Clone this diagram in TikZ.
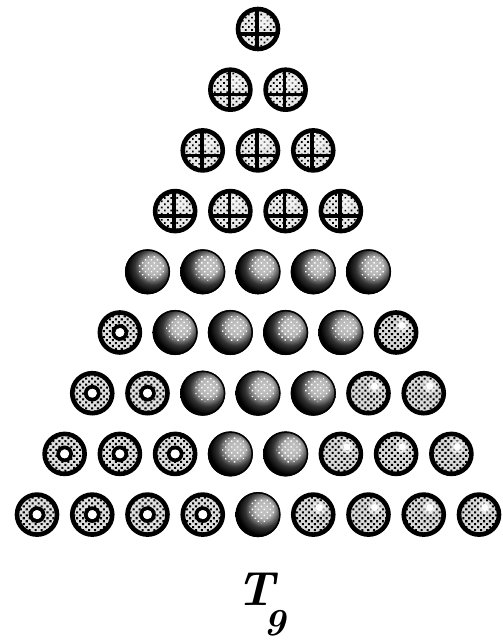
\documentclass[tikz,border=0pt]{standalone}
\usetikzlibrary{patterns.meta}
\pgfdeclareradialshading{darksh}{\pgfpoint{7bp}{7bp}}{color(0bp)=(gray!45); color(10bp)=(gray!58); color(20bp)=(black!80); color(28bp)=(black); color(100bp)=(black)}
\begin{document}
\begin{tikzpicture}[x=1pt,y=1pt,
  rim/.style={draw=black, line width=4.6pt},
  bar/.style={draw=black, line width=3.6pt},
  stipple/.style={pattern={Dots[radius=1.45pt,distance=4.2pt,angle=45]}, pattern color=black},
  lightstipple/.style={pattern={Dots[radius=1.2pt,distance=4.4pt,angle=45]}, pattern color=black},
  whitestipple/.style={pattern={Dots[radius=1pt,distance=4.2pt,angle=45]}, pattern color=white},
  lightball/.pic={
    \fill[gray!30] (0,0) circle (21);
    \fill[stipple] (0,0) circle (21);
    \fill[white, opacity=0.55] (6,7) circle (6.5);
    \fill[white] (6,7) circle (3.5);
    \draw[rim] (0,0) circle (20);
  },
  darkball/.pic={
    \shade[shading=darksh] (0,0) circle (22.5);
    \begin{scope}
      \clip (4,4) circle (13);
      \fill[whitestipple] (0,0) circle (22);
    \end{scope}
    \draw[line width=1.5pt] (0,0) circle (21.8);
  },
  ringball/.pic={
    \fill[gray!25] (0,0) circle (21);
    \fill[stipple] (0,0) circle (21);
    \draw[rim] (0,0) circle (20);
    \draw[line width=3.8pt] (0,0) circle (6.4);
    \fill[white] (0,0) circle (4.5);
  },
  quartball/.pic={
    \fill[gray!18] (0,0) circle (21);
    \fill[lightstipple] (0,0) circle (21);
    \fill[white, opacity=0.5] (5,7) circle (6);
    \draw[bar] (-1,-21) -- (-1,21);
    \draw[bar] (-21,-5) -- (21,-5);
    \draw[rim] (0,0) circle (20);
  },
  label/.style={inner sep=0pt, anchor=base}
]
\useasboundingbox[fill=white] (0,0) rectangle (503,643);
\foreach \r in {1,...,9}{
  \foreach \k in {1,...,\r}{
    \pgfmathsetmacro\xx{258+(\k-(\r+1)/2)*55.25}
    \pgfmathsetmacro\yy{643-(29+(\r-1)*60.7)}
    \pgfmathtruncatemacro\kind{\r<5 ? 0 : (\k<=\r-5 ? 1 : (\k<=5 ? 2 : 3))}
    \ifcase\kind
      \pic at (\xx,\yy) {quartball};
    \or
      \pic at (\xx,\yy) {ringball};
    \or
      \pic at (\xx,\yy) {darkball};
    \else
      \pic at (\xx,\yy) {lightball};
    \fi
  }
}
\node[label] (T) at (256,37) {\fontsize{48}{48}\selectfont\bfseries\itshape T};
\node[label] (nine) at (275,8) {\fontsize{38}{38}\selectfont\bfseries\itshape 9};
\end{tikzpicture}
\end{document}
